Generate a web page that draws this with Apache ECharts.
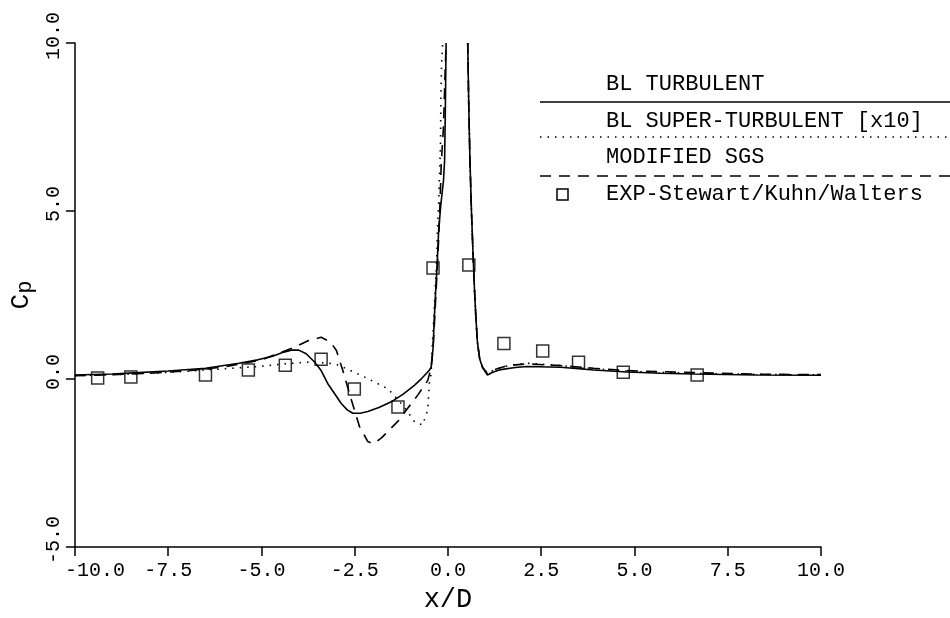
<!DOCTYPE html>
<html>
<head>
<meta charset="utf-8">
<title>Cp vs x/D</title>
<script src="https://cdn.jsdelivr.net/npm/echarts@6/dist/echarts.min.js"></script>
<style>
  html, body { margin: 0; padding: 0; background: #fff; }
  #chart { width: 950px; height: 618px; }
</style>
</head>
<body>
<div id="chart"></div>
<script>
// BL TURBULENT (solid) - null splits the two spike branches
const turbX = [-10, -9, -8.3, -7.5, -6.5, -5.6, -5.1, -4.7, -4.4, -4.2, -4.0, -3.8, -3.57, -3.4, -3.22, -3.0, -2.86, -2.7, -2.55, -2.35, -2.15, -1.85, -1.52, -1.2, -0.9, -0.7, -0.5, -0.45, -0.4, -0.37, -0.33, -0.29, -0.25, -0.19, -0.12, -0.09, -0.07, -0.05,
  null,
  0.53, 0.56, 0.59, 0.63, 0.67, 0.71, 0.75, 0.79, 0.85, 0.93, 1.06, 1.2, 1.42, 1.8, 2.13, 3.02, 3.91, 4.8, 5.7, 6.58, 8.3, 10]
const turbY = [0.12, 0.15, 0.19, 0.24, 0.32, 0.47, 0.57, 0.68, 0.8, 0.86, 0.86, 0.75, 0.5, 0.25, -0.14, -0.5, -0.73, -0.92, -1.02, -1.02, -0.97, -0.85, -0.68, -0.45, -0.19, 0.02, 0.26, 0.35, 0.9, 1.7, 2.6, 3.4, 4.4, 5.2, 5.9, 6.5, 8.0, 10,
  null,
  10, 8.0, 6.5, 5.0, 3.8, 2.7, 1.8, 1.1, 0.6, 0.33, 0.12, 0.2, 0.28, 0.34, 0.37, 0.35, 0.27, 0.21, 0.17, 0.15, 0.12, 0.11]

// BL SUPER-TURBULENT [x10] (dotted)
const superX = [-10, -9, -8, -7, -6.5, -5.09, -4.38, -3.66, -3.13, -2.95, -2.33, -1.61, -1.17, -0.9, -0.68, -0.54, -0.5, -0.45, -0.42, -0.38, -0.34, -0.3, -0.28, -0.25, -0.23, -0.2, -0.19, -0.17, -0.14,
  null,
  0.53, 0.56, 0.59, 0.63, 0.67, 0.71, 0.75, 0.79, 0.85, 0.93, 1.06, 1.3, 1.7, 2.13, 3.0, 4.0, 5.0, 6.6, 8.0, 10]
const superY = [0.1, 0.13, 0.17, 0.23, 0.27, 0.37, 0.45, 0.51, 0.46, 0.42, 0.11, -0.29, -0.83, -1.27, -1.37, -0.92, -0.14, 0.16, 1.0, 1.8, 2.7, 3.6, 4.5, 5.2, 5.96, 6.94, 8.42, 9.4, 10,
  null,
  10, 8.0, 6.5, 5.0, 3.8, 2.7, 1.8, 1.1, 0.6, 0.35, 0.17, 0.3, 0.42, 0.47, 0.4, 0.3, 0.22, 0.17, 0.14, 0.12]

// MODIFIED SGS (dashed)
const sgsX = [-10, -9, -8, -7, -6, -5, -4.5, -4.12, -3.75, -3.4, -3.15, -2.99, -2.82, -2.59, -2.37, -2.15, -2.0, -1.79, -1.35, -0.81, -0.54, -0.45, -0.4, -0.36, -0.32, -0.28, -0.24, -0.21, -0.18, -0.12, -0.08, -0.05,
  null,
  0.53, 0.56, 0.59, 0.63, 0.67, 0.71, 0.75, 0.79, 0.85, 0.93, 1.06, 1.3, 1.6, 2.13, 3.02, 3.91, 4.8, 6.58, 8.5, 10]
const sgsY = [0.1, 0.13, 0.17, 0.24, 0.36, 0.57, 0.78, 0.94, 1.14, 1.24, 1.1, 0.85, 0.26, -0.62, -1.42, -1.86, -1.93, -1.76, -1.27, -0.48, -0.04, 0.35, 0.9, 1.7, 2.6, 3.4, 4.4, 5.3, 6.4, 7.5, 9.0, 10,
  null,
  10, 8.0, 6.5, 5.0, 3.8, 2.7, 1.8, 1.1, 0.6, 0.35, 0.15, 0.3, 0.4, 0.45, 0.4, 0.32, 0.25, 0.19, 0.14, 0.13]

// EXP-Stewart/Kuhn/Walters (squares)
const expX = [-9.39, -8.5, -6.5, -5.35, -4.36, -3.4, -2.51, -1.34, -0.4, 0.56, 1.5, 2.54, 3.5, 4.7, 6.68]
const expY = [0.03, 0.06, 0.12, 0.27, 0.41, 0.59, -0.3, -0.83, 3.3, 3.39, 1.06, 0.83, 0.5, 0.2, 0.12]

const xTicks = [-10, -7.5, -5, -2.5, 0, 2.5, 5, 7.5, 10]
const yTicks = [-5, 0, 5, 10]

const legendNames = ['BL TURBULENT', 'BL SUPER-TURBULENT [x10]', 'MODIFIED SGS', 'EXP-Stewart/Kuhn/Walters']

function zip (xs, ys) {
  return xs.map((x, i) => (x === null ? [null, null] : [x, ys[i]]))
}

const FONT = 'Liberation Mono'
let chart = echarts.init(document.getElementById('chart'))

let lineBase = {
  type: 'line',
  showSymbol: false,
  symbol: 'none',
  connectNulls: false,
  clip: true,
  animation: false
}

let option = {
  backgroundColor: '#fff',
  animation: false,
  grid: { left: 73, right: 129, top: 43, bottom: 66 },
  xAxis: {
    type: 'value',
    min: -10,
    max: 10,
    interval: 2.5,
    name: 'x/D',
    nameLocation: 'middle',
    nameGap: 39,
    nameTextStyle: { fontFamily: FONT, fontSize: 27, color: '#000' },
    axisLine: { onZero: false, lineStyle: { color: '#000', width: 1.5 } },
    axisTick: { show: true, inside: false, length: 9, lineStyle: { color: '#000', width: 1.5 } },
    axisLabel: {
      fontFamily: FONT, fontSize: 20, color: '#000', margin: 14,
      formatter: v => {
        if (xTicks.indexOf(v) < 0) return ''
        // first label sits clear of the y axis, as in the original
        return v === xTicks[0] ? '{first|' + v.toFixed(1) + '}' : v.toFixed(1)
      },
      rich: {
        first: { fontFamily: FONT, fontSize: 20, color: '#000', padding: [0, 0, 0, 40] }
      }
    },
    splitLine: { show: false }
  },
  yAxis: {
    type: 'value',
    min: -5,
    max: 10,
    interval: 5,
    name: '{c|C}{p|p}',
    nameLocation: 'middle',
    nameRotate: 90,
    nameGap: 36,
    nameTextStyle: {
      color: '#000',
      rich: {
        c: { fontFamily: FONT, fontSize: 26, color: '#000' },
        p: { fontFamily: FONT, fontSize: 22, color: '#000', padding: [8, 0, 0, 0] }
      }
    },
    axisLine: { show: true, onZero: false, lineStyle: { color: '#000', width: 1.5 } },
    axisTick: { show: true, inside: false, length: 9, lineStyle: { color: '#000', width: 1.5 } },
    axisLabel: {
      fontFamily: FONT, fontSize: 20, color: '#000', margin: 11, rotate: 90,
      align: 'center', verticalAlign: 'bottom', padding: [0, 0, 0, 14],
      formatter: v => (yTicks.indexOf(v) >= 0 ? v.toFixed(1) : '')
    },
    splitLine: { show: false }
  },
  graphic: [
    { type: 'text', left: 606, top: 73, style: { text: legendNames[0], font: '22px ' + FONT, fill: '#000' } },
    { type: 'line', shape: { x1: 540, y1: 102, x2: 950, y2: 102 }, style: { stroke: '#000', lineWidth: 1.5 } },
    { type: 'text', left: 606, top: 110, style: { text: legendNames[1], font: '22px ' + FONT, fill: '#000' } },
    { type: 'line', shape: { x1: 540, y1: 137, x2: 950, y2: 137 }, style: { stroke: '#000', lineWidth: 1.5, lineDash: [1.5, 6] } },
    { type: 'text', left: 606, top: 146, style: { text: legendNames[2], font: '22px ' + FONT, fill: '#000' } },
    { type: 'line', shape: { x1: 540, y1: 176, x2: 950, y2: 176 }, style: { stroke: '#000', lineWidth: 1.5, lineDash: [11, 8] } },
    { type: 'rect', shape: { x: 557, y: 189, width: 11, height: 11 }, style: { fill: 'none', stroke: '#000', lineWidth: 1.5 } },
    { type: 'text', left: 606, top: 183, style: { text: legendNames[3], font: '22px ' + FONT, fill: '#000' } }
  ],
  series: [
    Object.assign({}, lineBase, {
      name: legendNames[0],
      data: zip(turbX, turbY),
      lineStyle: { color: '#000', width: 1.6, type: 'solid' }
    }),
    Object.assign({}, lineBase, {
      name: legendNames[1],
      data: zip(superX, superY),
      lineStyle: { color: '#000', width: 1.6, type: [1.5, 6] }
    }),
    Object.assign({}, lineBase, {
      name: legendNames[2],
      data: zip(sgsX, sgsY),
      lineStyle: { color: '#000', width: 1.6, type: [11, 8] }
    }),
    {
      name: legendNames[3],
      type: 'scatter',
      symbol: 'rect',
      symbolSize: 12,
      data: zip(expX, expY),
      itemStyle: { color: 'rgba(0,0,0,0)', borderColor: '#000', borderWidth: 1.5 },
      animation: false
    }
  ]
}

option && chart.setOption(option)
</script>
</body>
</html>
